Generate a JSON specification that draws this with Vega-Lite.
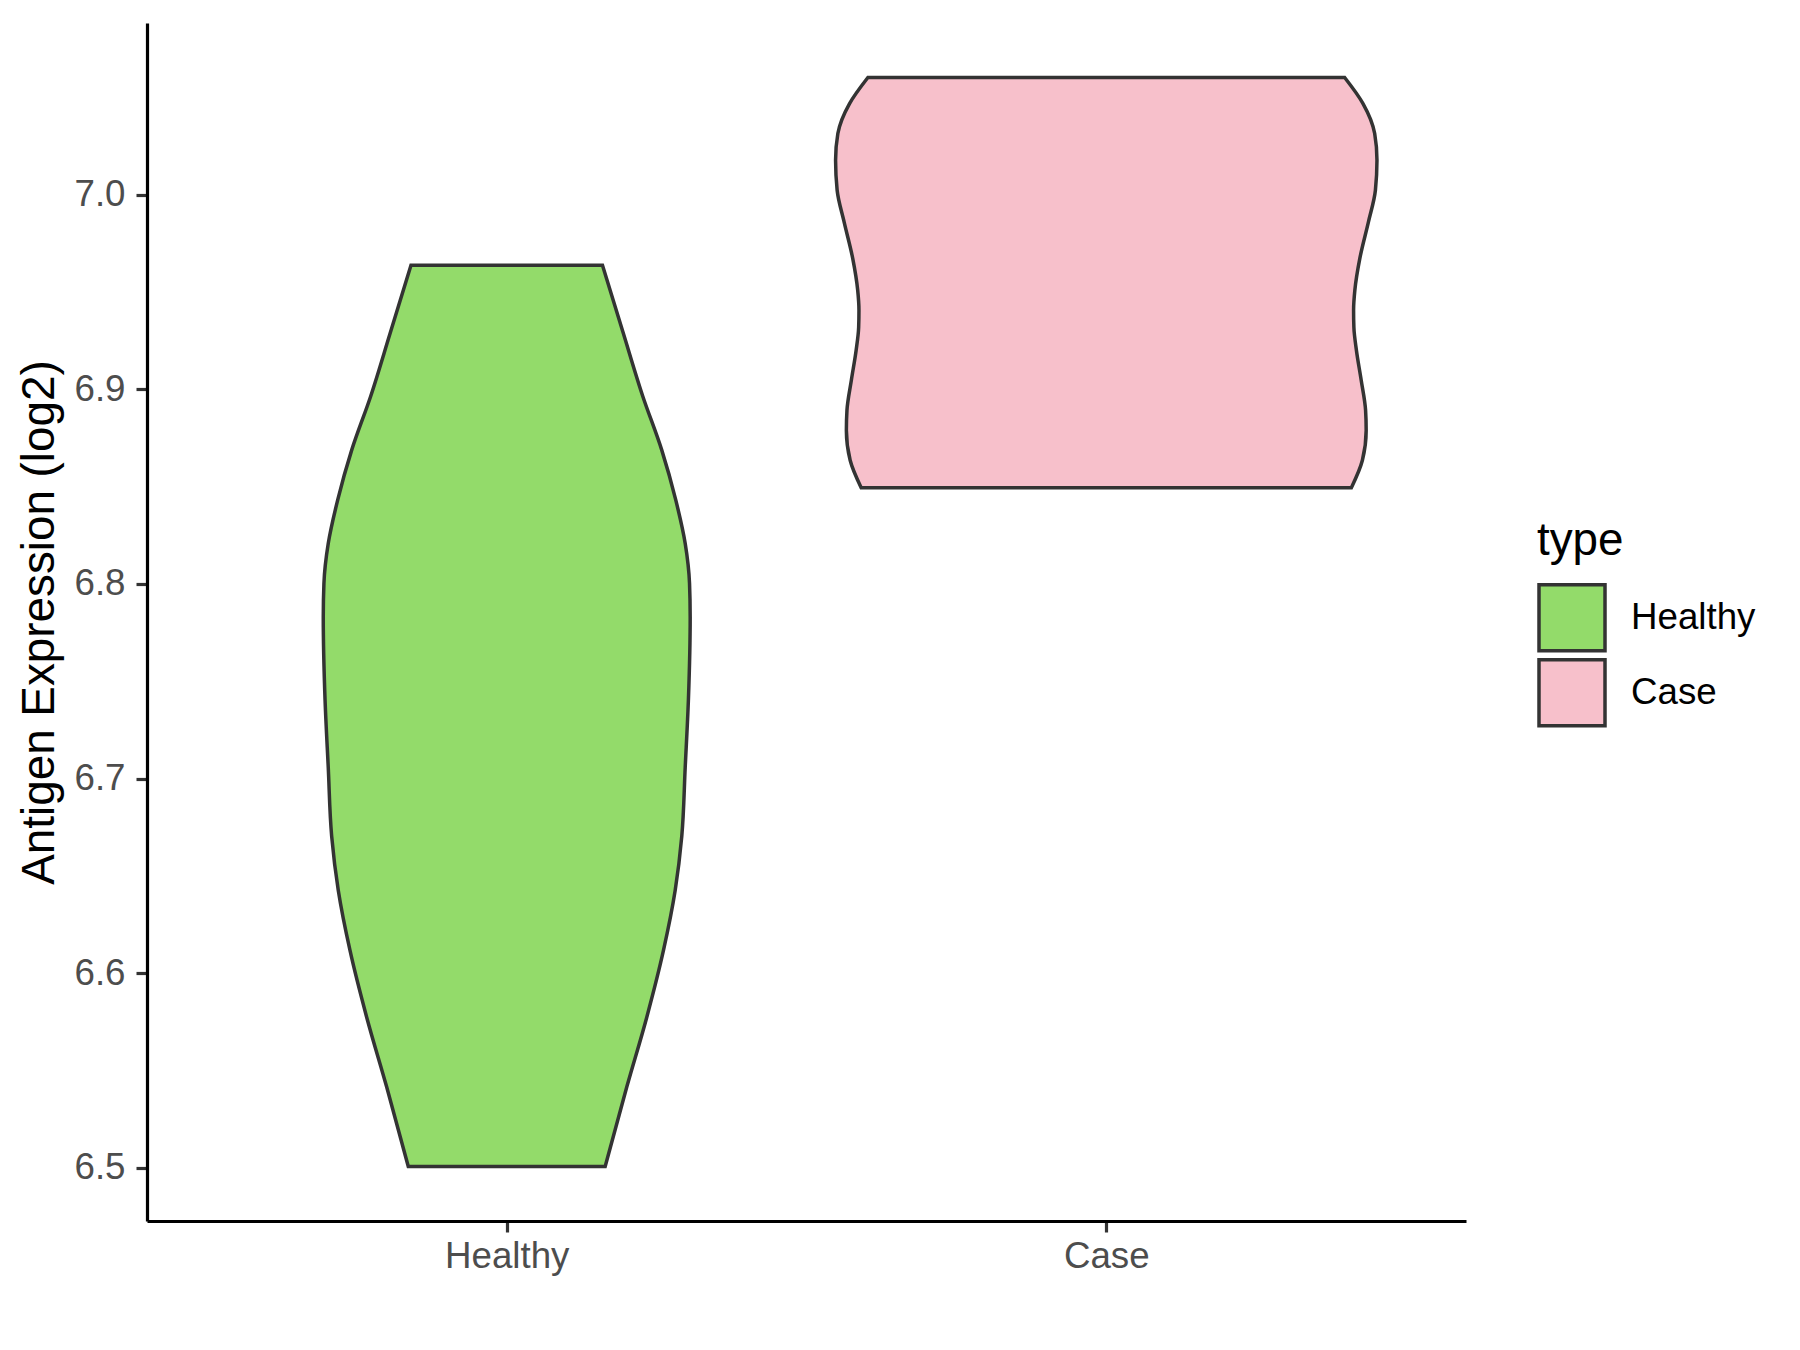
{
  "$schema": "https://vega.github.io/schema/vega-lite/v6.json",
  "width": 1319,
  "height": 1198,
  "autosize": {"type": "none"},
  "padding": {"left": 147, "top": 23, "right": 334, "bottom": 129},
  "background": "white",
  "data": {
    "values": [
      {"type": "Healthy", "expression": 6.5007, "lo": 0.8358, "hi": 1.1642},
      {"type": "Healthy", "expression": 6.5415, "lo": 0.7998, "hi": 1.2002},
      {"type": "Healthy", "expression": 6.5774, "lo": 0.7664, "hi": 1.2336},
      {"type": "Healthy", "expression": 6.6118, "lo": 0.7385, "hi": 1.2615},
      {"type": "Healthy", "expression": 6.6426, "lo": 0.7190, "hi": 1.2810},
      {"type": "Healthy", "expression": 6.6704, "lo": 0.7080, "hi": 1.2920},
      {"type": "Healthy", "expression": 6.7058, "lo": 0.7023, "hi": 1.2977},
      {"type": "Healthy", "expression": 6.7402, "lo": 0.6970, "hi": 1.3030},
      {"type": "Healthy", "expression": 6.7830, "lo": 0.6940, "hi": 1.3060},
      {"type": "Healthy", "expression": 6.8002, "lo": 0.6951, "hi": 1.3049},
      {"type": "Healthy", "expression": 6.8207, "lo": 0.7023, "hi": 1.2977},
      {"type": "Healthy", "expression": 6.8430, "lo": 0.7180, "hi": 1.2820},
      {"type": "Healthy", "expression": 6.8687, "lo": 0.7414, "hi": 1.2586},
      {"type": "Healthy", "expression": 6.8964, "lo": 0.7731, "hi": 1.2269},
      {"type": "Healthy", "expression": 6.9286, "lo": 0.8054, "hi": 1.1946},
      {"type": "Healthy", "expression": 6.9637, "lo": 0.8403, "hi": 1.1597},
      {"type": "Case", "expression": 6.8494, "lo": 1.5912, "hi": 2.4088},
      {"type": "Case", "expression": 6.8635, "lo": 1.5728, "hi": 2.4272},
      {"type": "Case", "expression": 6.8789, "lo": 1.5665, "hi": 2.4335},
      {"type": "Case", "expression": 6.8892, "lo": 1.5675, "hi": 2.4325},
      {"type": "Case", "expression": 6.9046, "lo": 1.5748, "hi": 2.4252},
      {"type": "Case", "expression": 6.9200, "lo": 1.5828, "hi": 2.4172},
      {"type": "Case", "expression": 6.9318, "lo": 1.5870, "hi": 2.4130},
      {"type": "Case", "expression": 6.9406, "lo": 1.5875, "hi": 2.4125},
      {"type": "Case", "expression": 6.9508, "lo": 1.5854, "hi": 2.4146},
      {"type": "Case", "expression": 6.9673, "lo": 1.5770, "hi": 2.4230},
      {"type": "Case", "expression": 6.9858, "lo": 1.5628, "hi": 2.4372},
      {"type": "Case", "expression": 7.0022, "lo": 1.5511, "hi": 2.4489},
      {"type": "Case", "expression": 7.0176, "lo": 1.5485, "hi": 2.4515},
      {"type": "Case", "expression": 7.0313, "lo": 1.5523, "hi": 2.4477},
      {"type": "Case", "expression": 7.0467, "lo": 1.5718, "hi": 2.4282},
      {"type": "Case", "expression": 7.0601, "lo": 1.6024, "hi": 2.3976}
    ]
  },
  "mark": {
    "type": "area",
    "orient": "horizontal",
    "interpolate": "monotone",
    "stroke": "#333333",
    "strokeWidth": 3.5,
    "strokeJoin": "miter",
    "opacity": 1,
    "fillOpacity": 1
  },
  "encoding": {
    "y": {
      "field": "expression",
      "type": "quantitative",
      "scale": {"domain": [6.4727, 7.0881], "nice": false, "zero": false},
      "axis": {
        "title": "Antigen Expression (log2)",
        "values": [6.5, 6.6, 6.7, 6.8, 6.9, 7.0],
        "format": ".1f",
        "labelPadding": 11,
        "titlePadding": 10
      }
    },
    "x": {
      "field": "lo",
      "type": "quantitative",
      "scale": {"domain": [0.4, 2.6], "nice": false, "zero": false},
      "axis": {
        "title": null,
        "values": [1, 2],
        "labelExpr": "datum.value == 1 ? 'Healthy' : 'Case'",
        "labelPadding": 6
      }
    },
    "x2": {"field": "hi"},
    "color": {
      "field": "type",
      "type": "nominal",
      "scale": {"domain": ["Healthy", "Case"], "range": ["#93DB6A", "#F7C0CB"]},
      "legend": {
        "title": "type",
        "orient": "none",
        "legendX": 1390,
        "legendY": 496,
        "symbolType": "square",
        "symbolSize": 4356,
        "symbolStrokeColor": "#333333",
        "symbolStrokeWidth": 3.5,
        "symbolOpacity": 1,
        "rowPadding": -9,
        "labelOffset": 24,
        "titlePadding": 18,
        "padding": 0
      }
    }
  },
  "config": {
    "view": {"stroke": null},
    "font": "Liberation Sans",
    "axis": {
      "grid": false,
      "domainColor": "#000000",
      "domainWidth": 3.2,
      "tickColor": "#333333",
      "tickWidth": 3.2,
      "tickSize": 11,
      "labelColor": "#4D4D4D",
      "labelFontSize": 36.7,
      "labelFont": "Liberation Sans",
      "titleFont": "Liberation Sans",
      "titleFontSize": 45.8,
      "titleFontWeight": "normal",
      "titleColor": "#000000"
    },
    "legend": {
      "titleFont": "Liberation Sans",
      "titleFontSize": 45.8,
      "titleFontWeight": "normal",
      "titleColor": "#000000",
      "labelFont": "Liberation Sans",
      "labelFontSize": 36.7,
      "labelColor": "#000000"
    }
  }
}
